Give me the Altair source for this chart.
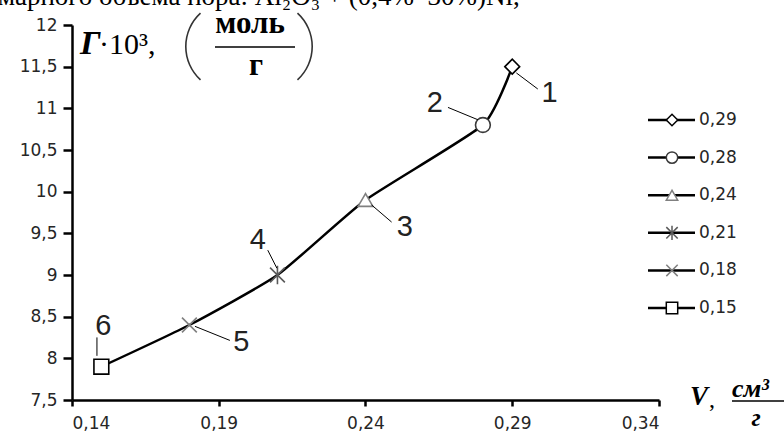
import altair as alt
import pandas as pd

# ---------------- data ----------------
labels = ["0,29", "0,28", "0,24", "0,21", "0,18", "0,15"]
v_values = [0.29, 0.28, 0.24, 0.21, 0.18, 0.15]
g_values = [11.5, 10.8, 9.9, 9.0, 8.4, 7.9]
point_numbers = ["1", "2", "3", "4", "5", "6"]

x_ticks = [0.14, 0.19, 0.24, 0.29, 0.34]
y_ticks = [7.5, 8, 8.5, 9, 9.5, 10, 10.5, 11, 11.5, 12]

# annotation anchors (in data units)
num_x = [0.3027, 0.2636, 0.2534, 0.2033, 0.1977, 0.1507]
num_y = [11.188, 11.067, 9.575, 9.419, 8.191, 8.384]
lead_x1 = [0.2914, 0.2681, 0.2421, 0.2067, 0.1819, 0.1485]
lead_y1 = [11.425, 11.011, 9.840, 9.298, 8.384, 8.251]
lead_x2 = [0.2987, 0.2783, 0.2489, 0.2098, 0.1938, 0.1485]
lead_y2 = [11.232, 10.863, 9.635, 9.082, 8.215, 8.030]

# ---------------- tables ----------------
pts = pd.DataFrame({"V": v_values, "G": g_values, "label": labels})
ann = pd.DataFrame({"num": point_numbers, "nx": num_x, "ny": num_y,
                    "x1": lead_x1, "y1": lead_y1, "x2": lead_x2, "y2": lead_y2})
one = pd.DataFrame({"k": [0]})

# ---------------- styles ----------------
marker_shapes = [
    "diamond",
    "circle",
    "triangle-up",
    "M-1,-1L1,1M-1,1L1,-1M0,-1.25L0,1.25",
    "M-1,-1L1,1M-1,1L1,-1",
    "square",
]
marker_strokes = ["#000000", "#3a3a3a", "#808080", "#5a5a5a", "#808080", "#000000"]

xs = alt.Scale(domain=[0.14, 0.34], nice=False, zero=False)
ys = alt.Scale(domain=[7.5, 12], nice=False, zero=False)
shape_scale = alt.Scale(domain=labels, range=marker_shapes)
stroke_scale = alt.Scale(domain=labels, range=marker_strokes)

x_axis = alt.Axis(values=x_ticks, title=None, grid=False,
                  labelExpr="replace(format(datum.value, '.2f'), '.', ',')",
                  domainColor="black", domainWidth=2.5, tickColor="black",
                  tickWidth=2.5, tickSize=6, labelFont="DejaVu Sans",
                  labelFontSize=17, labelColor="#262626", labelPadding=9)
y_axis = alt.Axis(values=y_ticks, title=None, grid=False,
                  labelExpr="replace(toString(datum.value), '.', ',')",
                  domainColor="black", domainWidth=2.5, tickColor="black",
                  tickWidth=2.5, tickSize=9, labelFont="DejaVu Sans",
                  labelFontSize=17, labelColor="#262626", labelPadding=6)

base = alt.Chart(pts)

line = base.mark_line(interpolate="cardinal", tension=0.5, color="black", strokeWidth=2.5).encode(
    x=alt.X("V:Q", scale=xs, axis=x_axis),
    y=alt.Y("G:Q", scale=ys, axis=y_axis),
)

markers = base.mark_point(fill="white", filled=False, size=220, strokeWidth=1.6, opacity=1).encode(
    x=alt.X("V:Q", scale=xs, axis=x_axis),
    y=alt.Y("G:Q", scale=ys, axis=y_axis),
    shape=alt.Shape("label:N", scale=shape_scale, legend=None),
    stroke=alt.Stroke("label:N", scale=stroke_scale, legend=None),
)

leaders = alt.Chart(ann).mark_rule(color="black", strokeWidth=1).encode(
    x=alt.X("x1:Q", scale=xs, axis=x_axis),
    y=alt.Y("y1:Q", scale=ys, axis=y_axis),
    x2="x2:Q",
    y2="y2:Q",
)

numbers = alt.Chart(ann).mark_text(font="Liberation Sans", fontSize=29, color="#222222",
                                    align="center", baseline="middle").encode(
    x=alt.X("nx:Q", scale=xs, axis=x_axis),
    y=alt.Y("ny:Q", scale=ys, axis=y_axis),
    text="num:N",
)

main = alt.layer(line, markers, leaders, numbers)

# ---------------- legend (own row scale) ----------------
leg_y = alt.Scale(type="point", domain=labels, range=[95, 283], padding=0)

leg_rules = base.mark_rule(color="black", strokeWidth=2.5).encode(
    x=alt.value(576), x2=alt.value(623),
    y=alt.Y("label:N", scale=leg_y, axis=None),
)
leg_points = base.mark_point(fill="white", filled=False, size=130, strokeWidth=1.5, opacity=1).encode(
    x=alt.value(600),
    y=alt.Y("label:N", scale=leg_y, axis=None),
    shape=alt.Shape("label:N", scale=shape_scale, legend=None),
    stroke=alt.Stroke("label:N", scale=stroke_scale, legend=None),
)
leg_text = base.mark_text(font="DejaVu Sans", fontSize=17, color="#262626",
                          align="left", baseline="middle").encode(
    x=alt.value(627),
    y=alt.Y("label:N", scale=leg_y, axis=None),
    text="label:N",
)
legend = alt.layer(leg_rules, leg_points, leg_text)


def txt(s, x, y, size, font="Liberation Serif", weight="normal", style="normal",
        align="left", color="black"):
    return alt.Chart(one).mark_text(text=s, font=font, fontSize=size, fontWeight=weight,
                                    fontStyle=style, align=align, baseline="alphabetic",
                                    color=color).encode(x=alt.value(x), y=alt.value(y))


def bar(x1, x2, y, w=1.5):
    return alt.Chart(one).mark_rule(color="black", strokeWidth=w).encode(
        x=alt.value(x1), x2=alt.value(x2), y=alt.value(y))


def paren(cx, cy, t1, t2):
    return alt.Chart(one).mark_arc(radius=46, radius2=44.4, theta=t1, theta2=t2,
                                   color="#333333").encode(x=alt.value(cx), y=alt.value(cy))


# y-axis title formula: Г·10³, (моль / г)
formula = [
    txt("Г", 8, 29, 34, weight="bold", style="italic"),
    txt("·10³,", 27, 29, 30),
    paren(159, 21.5, 3.882, 5.543),
    paren(195, 21.5, 0.740, 2.402),
    txt("моль", 178, 8, 31, weight="bold", align="center"),
    bar(143, 223, 22),
    txt("г", 184, 50, 31, weight="bold", align="center"),
]

# x-axis title: V, см³ / г
vtitle = [
    txt("V", 618, 380, 27, weight="bold", style="italic"),
    txt(",", 637, 382, 24),
    txt("см³", 660, 372, 26, weight="bold", style="italic"),
    bar(660, 714, 376),
    txt("г", 684, 401, 25, weight="bold", style="italic", align="center"),
]

header = [txt("марного объема пора: Al₂O₃ + (0,4%–30%)Ni,", -74, -20, 27)]

chart = alt.layer(
    main, legend, *formula, *vtitle, *header
).resolve_scale(
    y="independent"
).properties(
    width=587, height=375,
    autosize=alt.AutoSizeParams(type="none"),
    padding={"left": 72, "top": 25, "right": 125, "bottom": 33},
    background="white",
).configure_view(stroke=None)

chart.save("out.html", embed_options={"renderer": "svg", "actions": False})
